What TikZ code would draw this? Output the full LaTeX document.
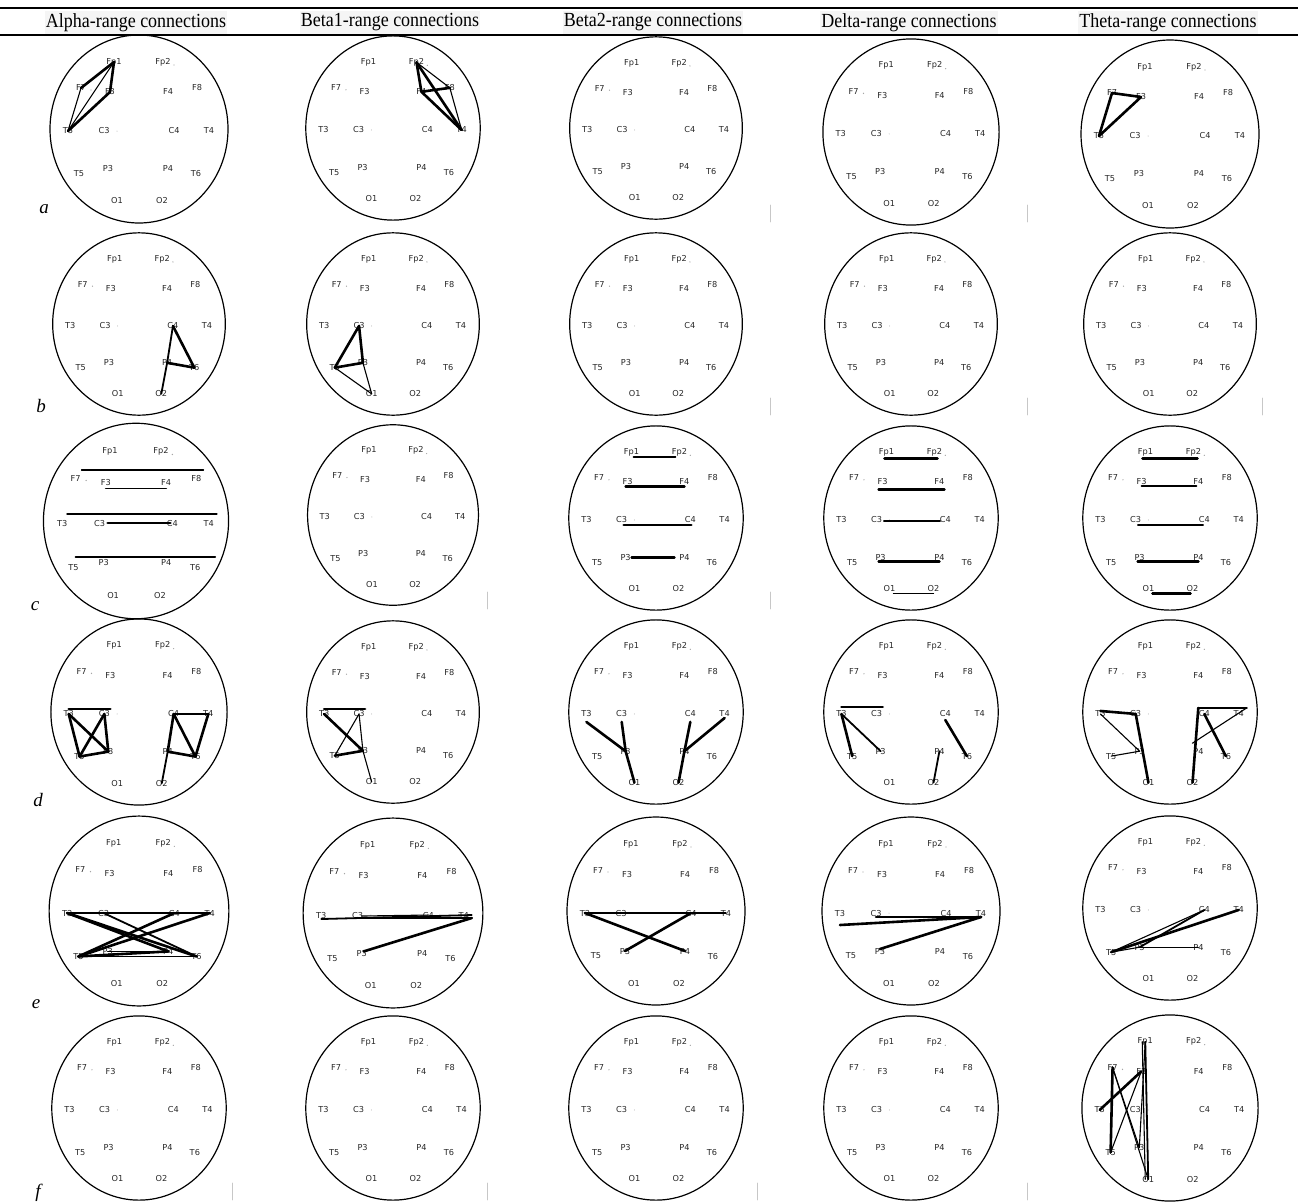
\documentclass[tikz,border=0pt]{standalone}
\usepackage{fontspec}
\setmainfont{Liberation Serif}
\newfontfamily\elecfont{DejaVu Sans}
\tikzset{
  headring/.style={line width=1.2pt},
  elec/.style={font=\elecfont\fontsize{8.2}{9}\selectfont, text=black!85, inner sep=0pt},
  thk/.style={line width=2.6pt},
  med/.style={line width=1.8pt},
  thn/.style={line width=1.1pt},
  faint/.style={draw=black!22, line width=0.8pt},
  hdr/.style={font=\fontsize{20}{22}\selectfont, xscale=0.9, fill=black!4, inner sep=1pt, minimum height=23pt},
  rowlab/.style={font=\fontsize{19}{20}\selectfont\itshape, inner sep=0pt},
}
\newcommand\eegpanel[4]{%
  \begin{scope}[shift={(#2,#3)},scale=#4]
    \draw[headring] (0,0) ellipse [x radius=89, y radius=94];
    \foreach \n/\x/\y in {Fp1/-25/-67,Fp2/24/-67,F7/-58/-41,F8/58/-41,F3/-29/-37,F4/29/-37,
      T3/-71/2,T4/70/2,C3/-35/2,C4/35/2,T5/-60/45,T6/57/45,P3/-31/40,P4/29/40,O1/-22/72,O2/23/72}
      {\node[elec] (#1\n) at (\x,\y) {\n};}
    \fill[black!35] (-48,-39) circle (0.7) (35,-64) circle (0.7) (-22,2) circle (0.5);
  \end{scope}}
\newcommand\cn[3]{\draw[#1] (#2.center) -- (#3.center);}
\begin{document}
\begin{tikzpicture}[x=1pt,y=-1pt,line cap=round,line join=round]
\useasboundingbox (0,0) rectangle (1298,1203);
% rules and headers
\draw[line width=2.5pt] (0,8) -- (1298,8);
\draw[line width=2pt] (0,34.5) -- (1298,34.5);
\node[hdr] (h1) at (136,22.5) {Alpha-range connections};
\node[hdr] (h2) at (390,22.5) {Beta1-range connections};
\node[hdr] (h3) at (653,22.5) {Beta2-range connections};
\node[hdr] (h4) at (909,22.5) {Delta-range connections};
\node[hdr] (h5) at (1168,22.5) {Theta-range connections};
% row labels
\node[rowlab] (la) at (44,209) {a};
\node[rowlab] (lb) at (41,406) {b};
\node[rowlab] (lc) at (35,606) {c};
\node[rowlab] (ld) at (38,800) {d};
\node[rowlab] (le) at (36,1004) {e};
\node[rowlab] (lf) at (38,1193) {f};
% panels
\eegpanel{a1}{139}{129}{1}
\eegpanel{a2}{393}{128}{0.98}
\eegpanel{a3}{656}{128}{0.97}
\eegpanel{a4}{911}{132}{0.99}
\eegpanel{a5}{1170}{134}{1}
\eegpanel{b1}{139}{324}{0.97}
\eegpanel{b2}{393}{324}{0.97}
\eegpanel{b3}{656}{324}{0.97}
\eegpanel{b4}{911}{324}{0.97}
\eegpanel{b5}{1170}{324}{0.97}
\eegpanel{c1}{136}{521}{1.04}
\eegpanel{c2}{393}{515}{0.96}
\eegpanel{c3}{656}{518}{0.98}
\eegpanel{c4}{911}{518}{0.98}
\eegpanel{c5}{1170}{518}{0.98}
\eegpanel{d1}{139}{712}{0.99}
\eegpanel{d2}{393}{712}{0.97}
\eegpanel{d3}{656}{712}{0.98}
\eegpanel{d4}{911}{712}{0.98}
\eegpanel{d5}{1170}{712}{0.98}
\eegpanel{e1}{139}{911}{1.01}
\eegpanel{e2}{393}{913}{1.01}
\eegpanel{e3}{656}{911}{1}
\eegpanel{e4}{911}{911}{1}
\eegpanel{e5}{1170}{908}{0.98}
\eegpanel{f1}{139}{1108}{0.98}
\eegpanel{f2}{393}{1108}{0.98}
\eegpanel{f3}{656}{1108}{0.98}
\eegpanel{f4}{911}{1108}{0.98}
\eegpanel{f5}{1170}{1108}{0.99}
% faint scan ticks
\draw[faint] (770,205) -- (770,222) (1027,205) -- (1027,222);
\draw[faint] (770,398) -- (770,415) (1027,398) -- (1027,415) (1262,398) -- (1262,415);
\draw[faint] (487,592) -- (487,609) (770,592) -- (770,609);
\draw[faint] (232,1183) -- (232,1200) (487,1183) -- (487,1200) (757,1183) -- (757,1200) (1027,1183) -- (1027,1200);
% ---- row a
\cn{thk}{a1Fp1}{a1F7} \cn{thk}{a1Fp1}{a1F3} \cn{thn}{a1Fp1}{a1T3}
\cn{thn}{a1F7}{a1T3} \cn{thk}{a1F3}{a1T3}
\cn{thk}{a2Fp2}{a2F4} \cn{thn}{a2Fp2}{a2F8} \cn{thk}{a2Fp2}{a2T4}
\cn{thk}{a2F4}{a2F8} \cn{thk}{a2F4}{a2T4} \cn{thn}{a2F8}{a2T4}
\cn{thk}{a5F7}{a5F3} \cn{thk}{a5F3}{a5T3} \cn{thk}{a5F7}{a5T3}
% ---- row b
\cn{med}{b1C4}{b1P4} \cn{thk}{b1C4}{b1T6} \cn{thk}{b1P4}{b1T6} \cn{med}{b1P4}{b1O2}
\cn{thk}{b2C3}{b2T5} \cn{thk}{b2C3}{b2P3} \cn{thk}{b2T5}{b2P3}
\cn{thn}{b2T5}{b2O1} \cn{thn}{b2P3}{b2O1}
% ---- row c
\draw[med] ([xshift=6pt,yshift=8pt]c1F7.center) -- ([xshift=7pt,yshift=8pt]c1F8.center);
\draw[med] ([xshift=0pt,yshift=-6pt]c1F3.center) -- ([xshift=0pt,yshift=-6pt]c1F4.center);
\draw[med] ([xshift=5pt,yshift=9pt]c1T3.center) -- ([xshift=8pt,yshift=9pt]c1T4.center);
\draw[thk] ([xshift=8pt]c1C3.center) -- ([xshift=-2pt]c1C4.center);
\draw[med] ([xshift=2pt,yshift=11pt]c1T5.center) -- ([xshift=20pt,yshift=11pt]c1T6.center);
\draw[med] ([xshift=2pt,yshift=-5pt]c3Fp1.center) -- ([xshift=-4pt,yshift=-5pt]c3Fp2.center);
\draw[thk] ([xshift=-2pt,yshift=-5pt]c3F3.center) -- ([xshift=0pt,yshift=-5pt]c3F4.center);
\draw[thk] ([xshift=2pt,yshift=-5pt]c3C3.center) -- ([xshift=1pt,yshift=-5pt]c3C4.center);
\draw[thk] ([xshift=6pt]c3P3.center) -- ([xshift=-10pt]c3P4.center);
\draw[thk] ([xshift=-2pt,yshift=-6pt]c4Fp1.center) -- ([xshift=3pt,yshift=-6pt]c4Fp2.center);
\draw[thk] ([xshift=-4pt,yshift=-8pt]c4F3.center) -- ([xshift=5pt,yshift=-8pt]c4F4.center);
\draw[thn] ([xshift=7pt,yshift=-1pt]c4C3.center) -- ([xshift=-5pt,yshift=-1pt]c4C4.center);
\draw[thk] ([xshift=-2pt,yshift=-4pt]c4P3.center) -- ([xshift=0pt,yshift=-4pt]c4P4.center);
\draw[thn] ([xshift=4pt,yshift=-5pt]c4O1.center) -- ([xshift=0pt,yshift=-5pt]c4O2.center);
\draw[thk] ([xshift=-3pt,yshift=-6pt]c5Fp1.center) -- ([xshift=4pt,yshift=-6pt]c5Fp2.center);
\draw[med] ([xshift=0pt,yshift=-4pt]c5F3.center) -- ([xshift=-2pt,yshift=-4pt]c5F4.center);
\draw[thn] ([xshift=2pt,yshift=-5pt]c5C3.center) -- ([xshift=-1pt,yshift=-5pt]c5C4.center);
\draw[thk] ([xshift=-2pt,yshift=-4pt]c5P3.center) -- ([xshift=0pt,yshift=-4pt]c5P4.center);
\draw[thk] ([xshift=4pt,yshift=-5pt]c5O1.center) -- ([xshift=-2pt,yshift=-5pt]c5O2.center);
% ---- row d
\draw[thk] ([yshift=5pt]d1T3.center) -- ([xshift=6pt,yshift=5pt]d1C3.center);
\cn{thk}{d1T3}{d1T5} \cn{thk}{d1T3}{d1P3} \cn{thk}{d1C3}{d1T5}
\cn{thk}{d1C3}{d1P3} \cn{thk}{d1T5}{d1P3}
\cn{thk}{d1C4}{d1T4} \cn{thk}{d1C4}{d1P4} \cn{thk}{d1C4}{d1T6}
\cn{thk}{d1T4}{d1T6} \cn{thk}{d1P4}{d1T6} \cn{med}{d1P4}{d1O2}
\draw[thk] ([yshift=5pt]d2T3.center) -- ([xshift=6pt,yshift=5pt]d2C3.center);
\cn{thk}{d2T3}{d2P3} \cn{thn}{d2C3}{d2P3} \cn{thn}{d2C3}{d2T5}
\cn{thk}{d2T5}{d2P3} \cn{thn}{d2P3}{d2O1}
\draw[thk] ([yshift=-8pt]d3T3.center) -- (d3P3.center);
\draw[thk] ([yshift=-8pt]d3C3.center) -- (d3P3.center);
\cn{thk}{d3P3}{d3O1}
\draw[thk] ([yshift=-8pt]d3C4.center) -- (d3P4.center);
\draw[thk] ([yshift=-4pt]d3T4.center) -- (d3P4.center);
\cn{thk}{d3P4}{d3O2}
\draw[thk] ([yshift=7pt]d4T3.center) -- ([xshift=6pt,yshift=7pt]d4C3.center);
\cn{thk}{d4T3}{d4T5} \cn{med}{d4T3}{d4P3}
\draw[thk] ([yshift=-6pt]d4C4.center) -- (d4T6.center);
\cn{med}{d4P4}{d4O2}
\draw[thk] ([yshift=3pt]d5T3.center) -- (d5C3.center);
\cn{thn}{d5T3}{d5P3} \cn{thk}{d5C3}{d5O1} \cn{thn}{d5T5}{d5P3}
\draw[thk] ([xshift=-6pt,yshift=6pt]d5C4.center) -- ([xshift=8pt,yshift=6pt]d5T4.center);
\draw[thk] ([xshift=-6pt,yshift=6pt]d5C4.center) -- (d5O2.center);
\draw[thn] ([xshift=8pt,yshift=6pt]d5T4.center) -- ([xshift=-6pt,yshift=8pt]d5P4.center);
\cn{thk}{d5C4}{d5T6}
% ---- row e
\cn{thk}{e1T3}{e1T4} \cn{thk}{e1T3}{e1P4} \cn{thk}{e1T3}{e1T6}
\cn{thk}{e1C3}{e1C4} \cn{med}{e1C3}{e1T6} \cn{thk}{e1T5}{e1C4}
\cn{thk}{e1T5}{e1T4} \cn{thk}{e1T5}{e1P4} \cn{thn}{e1P3}{e1P4} \cn{med}{e1T5}{e1T6}
\draw[med] ([yshift=-4pt]e2T3.center) -- ([xshift=8pt]e2T4.center);
\draw[thk] ([xshift=4pt,yshift=-3pt]e2C3.center) -- ([xshift=8pt,yshift=-3pt]e2T4.center);
\draw[thk] ([xshift=2pt,yshift=2pt]e2P3.center) -- ([xshift=8pt,yshift=-3pt]e2T4.center);
\draw[thn] ([xshift=4pt,yshift=-1pt]e2C3.center) -- (e2C4.center);
\cn{thk}{e3T3}{e3C4} \cn{thk}{e3C3}{e3C4} \cn{thn}{e3C4}{e3T4}
\cn{thk}{e3T3}{e3P4} \cn{thk}{e3P3}{e3C4}
\draw[thk] ([yshift=-4pt]e4C3.center) -- ([yshift=-4pt]e4T4.center);
\draw[thk] ([yshift=-12pt]e4T3.center) -- ([yshift=-4pt]e4T4.center);
\draw[thk] ([yshift=2pt]e4P3.center) -- ([yshift=-4pt]e4T4.center);
\cn{thn}{e5T5}{e5C4} \cn{med}{e5P3}{e5C4} \cn{thk}{e5T4}{e5T5}
\cn{thn}{e5P3}{e5P4} \cn{thn}{e5T5}{e5P3}
% ---- row f
\cn{thk}{f5F7}{f5T5} \cn{thn}{f5F7}{f5P3} \cn{thn}{f5F7}{f5O1}
\cn{thn}{f5Fp1}{f5P3} \cn{med}{f5Fp1}{f5O1}
\draw[thn] ([xshift=-3pt]f5Fp1.center) -- ([xshift=-3pt]f5O1.center);
\cn{thn}{f5F3}{f5T5} \cn{thk}{f5F3}{f5T3}
\end{tikzpicture}
\end{document}
